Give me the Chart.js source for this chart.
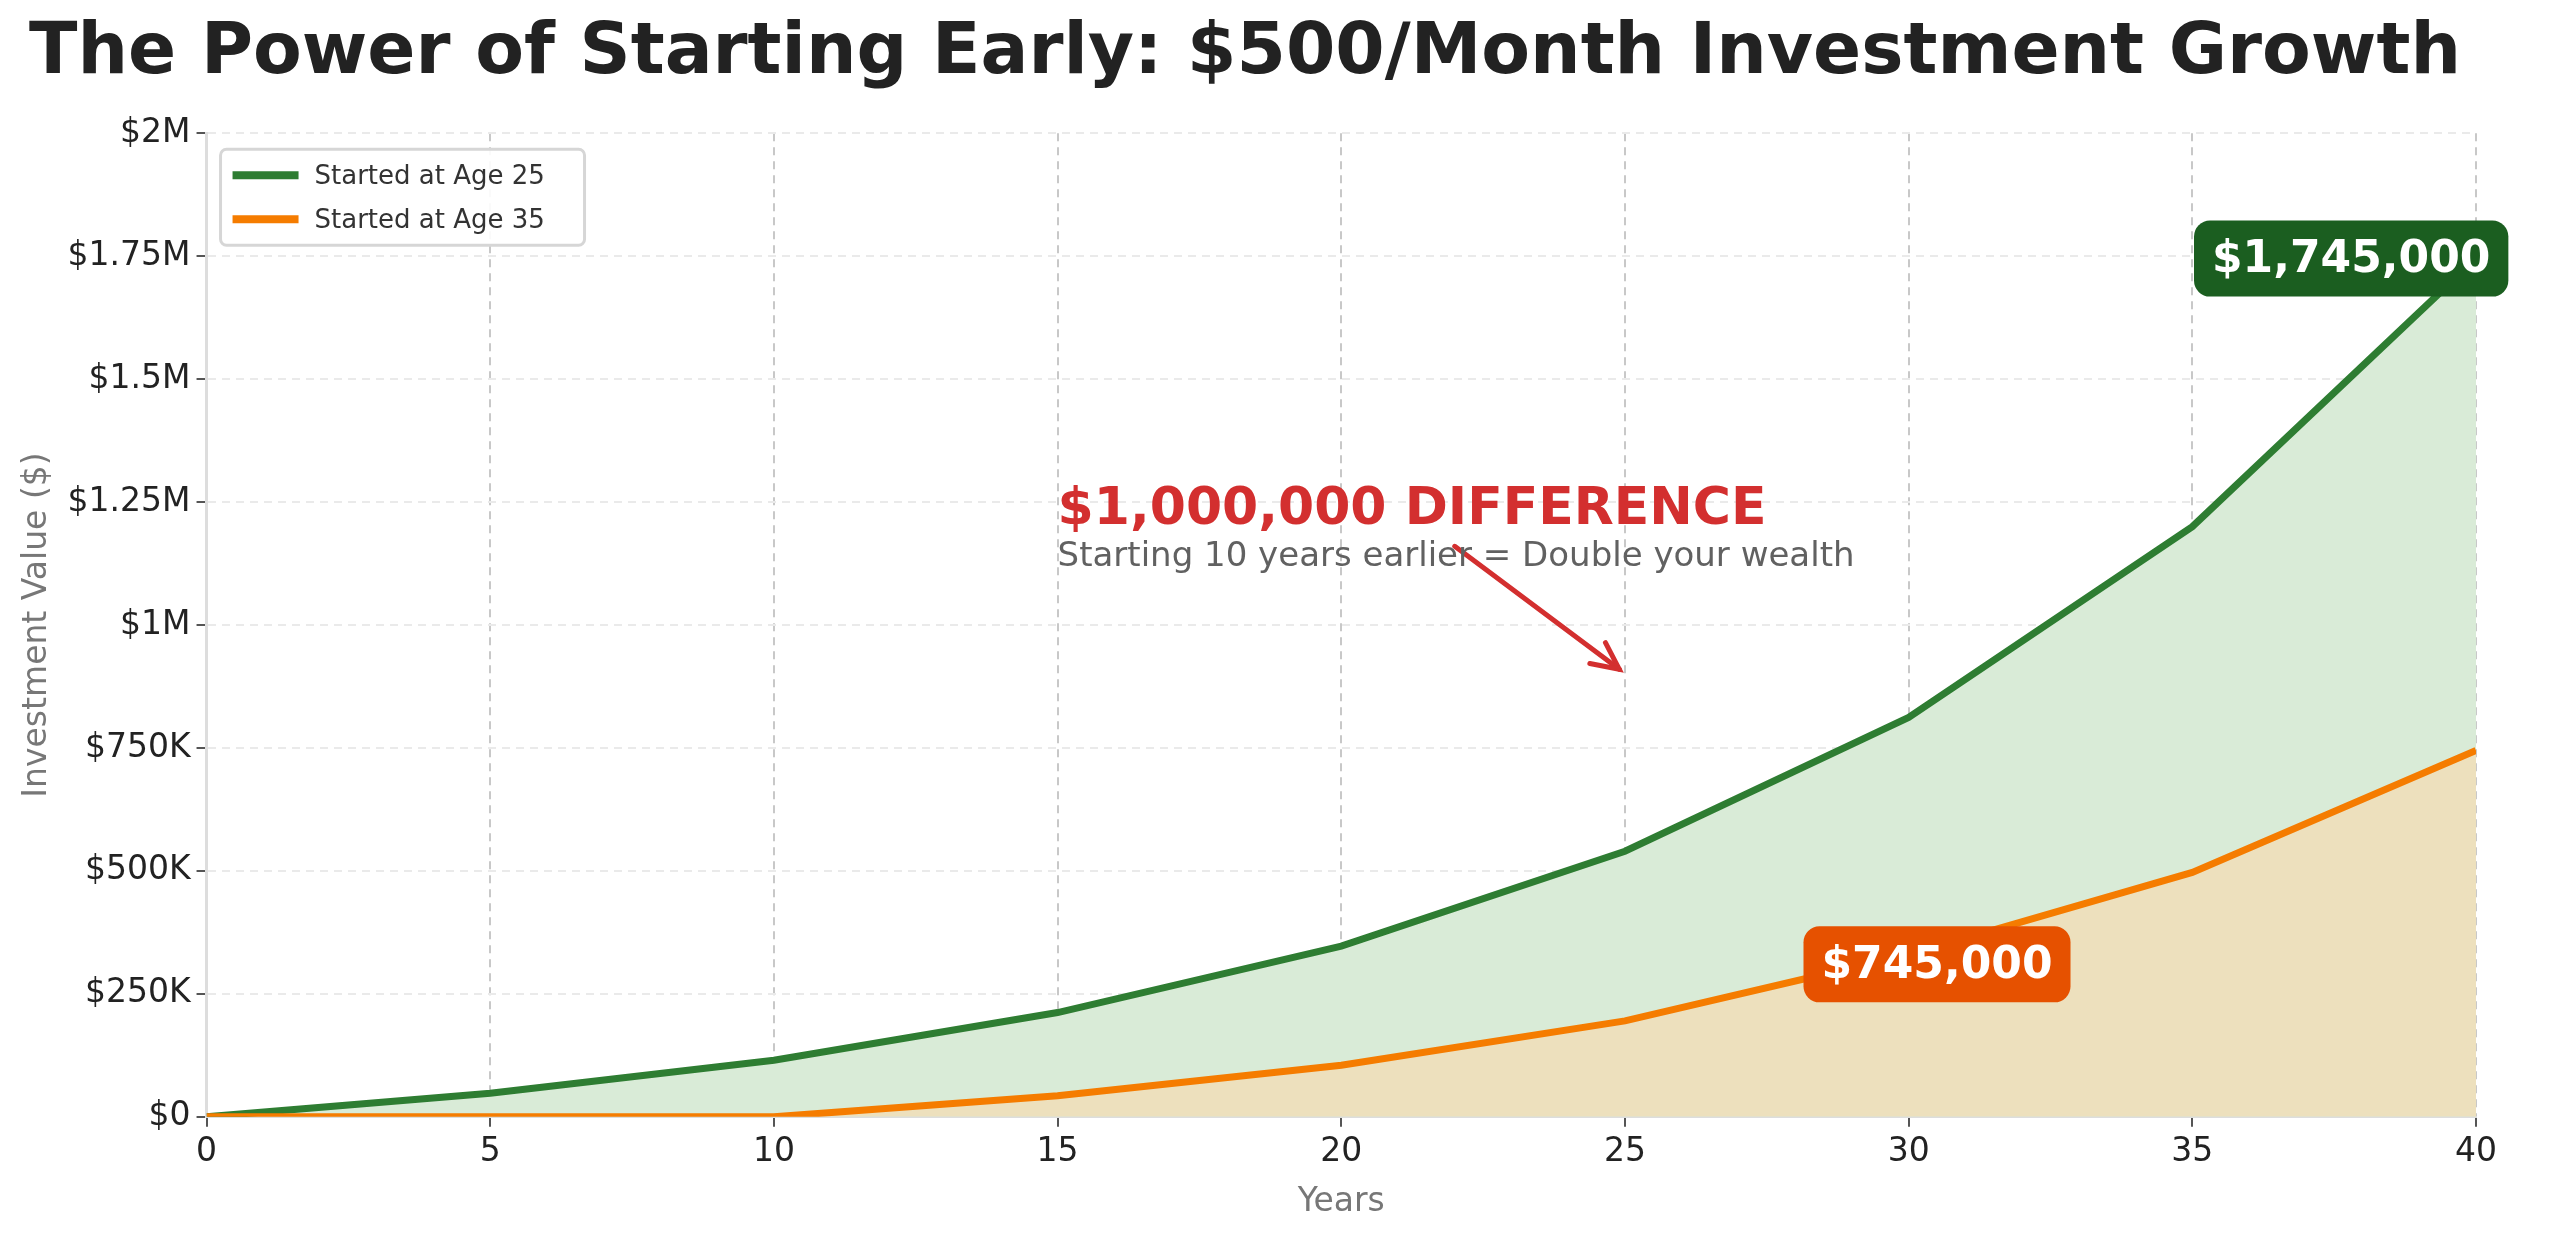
<!DOCTYPE html>
<html><head><meta charset="utf-8">
<script src="https://cdn.jsdelivr.net/npm/chart.js@4.4.1/dist/chart.umd.min.js"></script>
<style>html,body{margin:0;padding:0;background:#fff}#wrap{width:2560px;height:1240px}</style>
</head><body><div id="wrap"><canvas id="c"></canvas></div>
<script>
const years = [0,5,10,15,20,25,30,35,40];
const age25 = [0,48000,115000,212000,347000,540000,812000,1200000,1745000];
const age35 = [0,0,0,43000,105000,195000,330000,497000,745000];
const yTicks = [0,250000,500000,750000,1000000,1250000,1500000,1750000,2000000];
const yTickLabels = ['$0','$250K','$500K','$750K','$1M','$1.25M','$1.5M','$1.75M','$2M'];
const legendLabels = ['Started at Age 25','Started at Age 35'];
const F = 'DejaVu Sans';

const overlay = {
  id:'overlay',
  afterDatasetsDraw(chart){
    const {ctx, chartArea, scales:{x,y}} = chart;
    ctx.save();
    // arrow
    const x1=x.getPixelForValue(22), y1=y.getPixelForValue(1160000);
    const x2=x.getPixelForValue(24.9), y2=y.getPixelForValue(910000);
    ctx.strokeStyle='#d32f2f'; ctx.lineWidth=5; ctx.lineCap='round';
    ctx.beginPath(); ctx.moveTo(x1,y1); ctx.lineTo(x2,y2); ctx.stroke();
    const a=Math.atan2(y2-y1,x2-x1), L=30;
    ctx.beginPath();
    ctx.moveTo(x2-L*Math.cos(a-0.45),y2-L*Math.sin(a-0.45)); ctx.lineTo(x2,y2);
    ctx.lineTo(x2-L*Math.cos(a+0.45),y2-L*Math.sin(a+0.45)); ctx.stroke();
    // texts
    ctx.textAlign='left'; ctx.textBaseline='alphabetic';
    ctx.fillStyle='#d32f2f'; ctx.font='bold 52px '+F;
    ctx.fillText('$1,000,000 DIFFERENCE', x.getPixelForValue(15), y.getPixelForValue(1205000));
    ctx.fillStyle='#616161'; ctx.font='34px '+F;
    ctx.fillText('Starting 10 years earlier = Double your wealth', x.getPixelForValue(15), y.getPixelForValue(1120000));
    // boxes
    function box(txt,cx,cy,bg){
      ctx.font='bold 44px '+F;
      const w=ctx.measureText(txt).width+36, h=76;
      ctx.fillStyle=bg; ctx.beginPath(); ctx.roundRect(cx-w/2,cy-h/2,w,h,16); ctx.fill();
      ctx.fillStyle='#fff'; ctx.textAlign='center'; ctx.textBaseline='middle';
      ctx.fillText(txt,cx,cy+2);
    }
    box('$1,745,000', x.getPixelForValue(37.8), y.getPixelForValue(1745000), '#1b5e20');
    box('$745,000', x.getPixelForValue(30.5), y.getPixelForValue(310000), '#e65100');
    // legend
    const colors=['#2e7d32','#f57c00'];
    const lx=chartArea.left+14, ly=chartArea.top+16, lw=364, lh=96;
    ctx.fillStyle='rgba(255,255,255,0.9)'; ctx.strokeStyle='#d6d6d6'; ctx.lineWidth=3;
    ctx.beginPath(); ctx.roundRect(lx,ly,lw,lh,6); ctx.fill(); ctx.stroke();
    ctx.font='26px '+F; ctx.textAlign='left'; ctx.textBaseline='middle';
    legendLabels.forEach((t,i)=>{
      const cy=ly+26+i*44;
      ctx.strokeStyle=colors[i]; ctx.lineWidth=8; ctx.lineCap='butt';
      ctx.beginPath(); ctx.moveTo(lx+12,cy); ctx.lineTo(lx+78,cy); ctx.stroke();
      ctx.fillStyle='#333'; ctx.fillText(t,lx+94,cy+2);
    });
    ctx.restore();
  }
};

new Chart(document.getElementById('c'), {
  type:'line',
  data:{labels:years, datasets:[
    {label:'Started at Age 35', data:age35.map((v,i)=>({x:years[i],y:v})), borderColor:'#f57c00', backgroundColor:'rgba(240,222,184,0.85)', fill:'origin', borderWidth:7, pointRadius:0, order:1},
    {label:'Started at Age 25', data:age25.map((v,i)=>({x:years[i],y:v})), borderColor:'#2e7d32', backgroundColor:'#d9ebd7', fill:'origin', borderWidth:7, pointRadius:0, order:2}
  ]},
  options:{
    responsive:true, maintainAspectRatio:false, animation:false,
    layout:{padding:{left:14,right:84,top:6,bottom:14}},
    plugins:{
      title:{display:true, text:'The Power of Starting Early: $500/Month Investment Growth', color:'#222', font:{family:F,size:71,weight:'bold'}, padding:{top:6,bottom:36}},
      legend:{display:false},
      tooltip:{enabled:false}
    },
    scales:{
      x:{type:'linear', min:0, max:40, afterBuildTicks(s){s.ticks=[0,5,10,15,20,25,30,35,40].map(v=>({value:v}));},
        ticks:{font:{family:F,size:33}, color:'#222', padding:6},
        grid:{color:'#c8c8c8', lineWidth:2, drawTicks:true, tickLength:10, tickColor:'#555'}, border:{dash:[8,6], display:true, color:'#ddd', width:2},
        title:{display:true, text:'Years', font:{family:F,size:33}, color:'#777', padding:{top:4}}},
      y:{min:0, max:2000000, afterBuildTicks(s){s.ticks=yTicks.map(v=>({value:v}));},
        ticks:{font:{family:F,size:33}, color:'#222', padding:6, callback:(v)=>yTickLabels[yTicks.indexOf(v)]},
        grid:{color:'#eaeaea', lineWidth:2, tickLength:10, tickColor:'#555'}, border:{dash:[8,6], display:true, color:'#ddd', width:3},
        title:{display:true, text:'Investment Value ($)', font:{family:F,size:33}, color:'#777', padding:{bottom:4}}}
    }
  },
  plugins:[overlay]
});
</script></body></html>
